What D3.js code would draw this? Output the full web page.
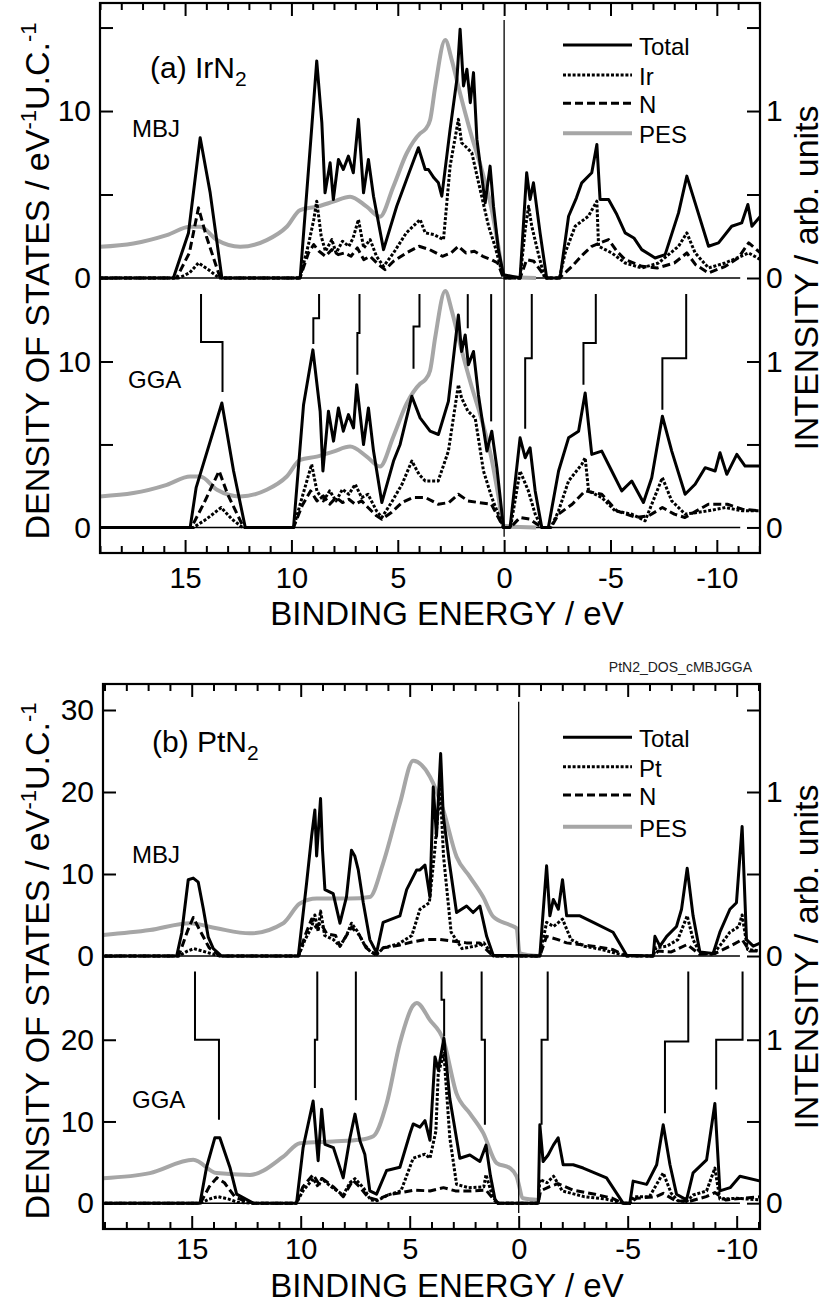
<!DOCTYPE html>
<html>
<head>
<meta charset="utf-8">
<script src="https://cdn.jsdelivr.net/npm/d3@7"></script>
<style>
  body { margin: 0; background: #fff; }
  svg { display: block; font-family: "Liberation Sans", Arial, sans-serif; }
</style>
</head>
<body>
<div id="wrapper"></div>
<script>
//* Data: [binding energy (eV), DOS (states/eV/u.c.)] ; PES in arb. units
const totalMbjA = [[19,0],[15.55,0],[14.84,2.7],[14.29,8.4],[13.82,5.1],[13.27,0],[9.59,0],[9.04,9.1],[8.81,13.0],[8.57,9.3],[8.42,5.1],[8.18,6.9],[8.03,4.7],[7.79,7.1],[7.56,6.5],[7.32,7.3],[7.09,6.3],[6.85,9.5],[6.61,5.1],[6.38,7.1],[6.14,4.9],[5.67,1.7],[5.05,4.3],[4.5,6.2],[4.03,7.8],[3.71,6.5],[3.56,6.5],[3.3,6.0],[3.09,5.7],[2.93,4.9],[2.54,8.9],[2.22,11.9],[2.07,14.9],[1.91,11.5],[1.75,12.5],[1.59,10.5],[1.44,12.3],[1.28,8.3],[0.89,4.5],[0.66,6.7],[0.5,4.3],[0.27,1.7],[0.03,0.2],[-0.75,0],[-1.06,6.3],[-1.22,4.7],[-1.38,5.7],[-1.69,2.7],[-2.0,0],[-2.63,0],[-3.03,3.7],[-3.4,4.8],[-3.65,5.7],[-4.12,6.3],[-4.36,8.0],[-4.51,4.7],[-4.91,4.7],[-5.3,3.8],[-5.69,2.7],[-6.1,2.4],[-6.47,1.7],[-7.1,1.2],[-7.57,1.4],[-8.2,3.9],[-8.59,6.1],[-8.98,4.5],[-9.61,1.9],[-10.08,2.1],[-10.7,3.1],[-11.17,3.3],[-11.46,4.4],[-11.65,3.1],[-12.05,3.7]];
const irMbjA = [[19,0],[15.3,0],[14.8,0.3],[14.37,0.9],[13.9,0.5],[13.4,0],[9.6,0],[9.2,2.0],[8.95,3.5],[8.81,4.6],[8.6,2.5],[8.4,1.6],[8.1,2.3],[7.9,1.5],[7.6,2.2],[7.3,1.9],[7.1,2.4],[6.85,3.5],[6.6,1.8],[6.3,2.3],[6.0,1.3],[5.67,0.7],[5.2,1.5],[4.6,2.7],[3.95,3.5],[3.71,2.7],[3.3,2.6],[2.85,2.3],[2.54,6.7],[2.15,9.5],[2.0,8.1],[1.75,7.8],[1.52,7.5],[1.2,5.7],[0.73,3.1],[0.43,1.9],[0.03,0],[-0.75,0],[-1.0,3.0],[-1.15,4.3],[-1.3,3.1],[-1.6,1.5],[-1.9,0],[-2.6,0],[-2.87,1.5],[-3.34,3.1],[-3.96,3.7],[-4.36,4.6],[-4.44,1.9],[-5.06,1.5],[-5.69,0.9],[-6.47,0.6],[-7.26,0.9],[-8.2,1.9],[-8.59,2.7],[-8.98,1.5],[-9.61,0.6],[-10.39,0.9],[-11.5,1.5],[-12.05,1.1]];
const nMbjA = [[19,0],[15.4,0],[14.8,1.5],[14.37,4.2],[14.0,2.5],[13.35,0],[9.6,0],[9.2,1.5],[8.95,2.0],[8.7,1.6],[8.4,1.3],[8.1,1.7],[7.8,1.4],[7.5,1.5],[7.2,1.3],[6.9,1.8],[6.6,1.1],[6.3,1.3],[5.9,0.8],[5.6,0.5],[5.2,1.0],[4.6,1.5],[4.0,1.9],[3.5,1.7],[2.9,1.3],[2.5,1.5],[2.15,1.9],[1.8,1.5],[1.4,1.6],[1.0,1.3],[0.6,1.1],[0.3,0.9],[0.03,0],[-0.75,0],[-1.06,1.1],[-1.4,1.0],[-1.8,0.3],[-2.0,0],[-2.6,0],[-3.19,0.7],[-3.7,1.4],[-4.12,1.9],[-4.91,2.3],[-5.3,1.6],[-5.69,1.1],[-6.47,0.7],[-7.2,0.6],[-8.0,0.9],[-8.59,1.5],[-9.0,0.8],[-9.61,0.3],[-10.4,0.7],[-11.0,1.2],[-11.5,2.1],[-12.05,1.5]];
const totalGgaA = [[19,0],[14.76,0],[14.48,2.4],[13.27,7.5],[12.72,3.4],[12.17,0],[9.9,0],[9.43,7.4],[8.99,10.7],[8.65,7.0],[8.52,3.4],[8.26,7.0],[8.02,5.2],[7.79,7.2],[7.56,5.8],[7.32,6.8],[7.08,6.0],[6.93,8.6],[6.61,5.0],[6.38,7.2],[6.14,4.6],[5.75,1.5],[5.2,4.0],[4.89,5.0],[4.34,7.9],[3.95,6.6],[3.71,6.2],[3.48,5.8],[3.09,5.6],[2.62,7.6],[2.15,12.8],[2.0,10.6],[1.83,11.6],[1.68,9.8],[1.44,10.6],[1.21,8.0],[0.81,4.6],[0.58,5.8],[0.34,3.6],[0.03,0],[-0.28,0],[-0.75,5.4],[-0.99,4.2],[-1.22,4.8],[-1.46,2.2],[-1.77,0],[-2.08,0],[-2.56,3.4],[-3.03,5.4],[-3.5,5.8],[-3.81,8.1],[-4.12,4.4],[-4.59,4.6],[-5.06,3.4],[-5.53,2.2],[-6.0,2.8],[-6.55,1.5],[-6.94,3.0],[-7.44,6.7],[-7.88,4.6],[-8.51,2.0],[-8.98,2.6],[-9.45,3.6],[-9.92,3.4],[-10.15,4.5],[-10.47,3.2],[-10.94,4.4],[-11.33,3.7],[-12.05,3.7]];
const irGgaA = [[19,0],[14.6,0],[14.0,0.5],[13.3,1.2],[12.8,0.5],[12.3,0],[9.9,0],[9.5,1.8],[9.05,3.8],[8.8,2.2],[8.5,1.6],[8.2,2.2],[7.9,1.6],[7.6,2.3],[7.3,2.0],[7.0,2.6],[6.7,1.8],[6.4,2.0],[6.0,1.0],[5.75,0.6],[5.3,1.5],[4.8,2.6],[4.34,4.0],[4.0,3.2],[3.71,2.8],[3.1,2.8],[2.62,4.6],[2.15,8.6],[2.0,7.8],[1.7,7.0],[1.36,6.6],[0.97,3.4],[0.58,1.8],[0.03,0],[-0.3,0],[-0.75,3.4],[-1.14,2.2],[-1.46,0.8],[-1.77,0],[-2.2,0],[-2.56,1.0],[-3.03,2.8],[-3.65,3.8],[-3.81,4.2],[-3.97,2.2],[-4.59,1.8],[-5.22,1.0],[-6.0,0.8],[-6.63,0.4],[-7.44,3.0],[-7.88,1.6],[-8.51,0.8],[-9.6,1.0],[-10.4,1.2],[-11.2,1.0],[-12.05,1.0]];
const nGgaA = [[19,0],[14.7,0],[14.1,1.5],[13.4,3.4],[13.0,2.0],[12.25,0],[9.9,0],[9.5,1.3],[9.1,2.2],[8.8,1.6],[8.5,1.9],[8.2,1.4],[7.9,1.8],[7.6,1.5],[7.3,1.7],[7.0,1.4],[6.7,1.6],[6.4,1.2],[6.0,0.7],[5.75,0.5],[5.3,0.9],[4.8,1.5],[4.3,1.8],[3.7,1.8],[3.1,1.4],[2.6,1.5],[2.15,2.0],[1.7,1.6],[1.2,1.5],[0.6,1.4],[0.03,0],[-0.3,0],[-0.75,0.6],[-1.2,0.5],[-1.77,0],[-2.2,0],[-2.56,0.8],[-3.2,1.4],[-3.81,2.2],[-4.59,2.0],[-5.3,1.0],[-6.2,0.6],[-6.8,0.7],[-7.44,1.2],[-8.0,0.8],[-8.5,0.6],[-9.6,1.4],[-10.5,1.4],[-11.2,1.1],[-12.05,1.0]];
const pesA = [[19,0.187],[17.43,0.207],[15.86,0.257],[14.76,0.307],[14.29,0.307],[13.5,0.227],[12.41,0.187],[11.16,0.227],[10.22,0.307],[9.59,0.407],[8.81,0.427],[8.03,0.457],[7.24,0.487],[6.46,0.427],[5.84,0.367],[5.21,0.547],[4.58,0.747],[3.95,0.866],[3.71,0.89],[3.48,0.946],[3.24,1.145],[2.77,1.425],[2.46,1.305],[2.15,1.145],[1.52,0.846],[1.05,0.647],[0.58,0.407],[0.27,0.188],[0.03,0.01],[-1.5,0]];
// [E top (MBJ), E bottom (GGA), DOS at step, DOS at end]
const markersA = [[14.25,13.24,11.17,8.16],[8.7,8.97,12.61,11.05],[6.8,6.9,11.71,9.2],[3.98,4.26,12.11,9.56],[1.71,1.71,12.0,12.0],[0.61,0.61,6.39,6.39],[-1.3,-0.99,10.2,5.95],[-4.31,-3.73,11.11,8.6],[-8.56,-7.44,10.2,7.09]];

const totalMbjB = [[19,0],[15.69,0],[15.46,2.8],[15.16,9.3],[14.93,9.5],[14.7,9.0],[14.47,5.8],[14.24,2.3],[14.01,0.9],[13.63,0],[10.11,0],[9.73,8.9],[9.5,14.6],[9.35,17.8],[9.27,12.2],[9.09,19.2],[9.0,12.9],[8.89,8.1],[8.51,7.6],[8.2,4.0],[7.9,7.2],[7.67,12.9],[7.52,12.2],[7.36,10.5],[7.13,6.5],[6.83,2.0],[6.52,0.4],[6.22,4.1],[5.45,4.9],[5.14,8.1],[4.68,10.5],[4.53,10.5],[4.3,11.1],[4.07,7.2],[3.92,20.6],[3.77,14.6],[3.58,24.7],[3.46,17.1],[3.16,11.0],[2.85,5.3],[2.39,6.1],[2.09,5.3],[1.78,6.1],[1.47,2.4],[1.17,0.1],[-0.97,0],[-1.28,11.0],[-1.43,4.9],[-1.59,6.9],[-1.82,5.7],[-2.01,9.3],[-2.2,4.9],[-2.81,4.9],[-3.42,4.1],[-4.33,2.9],[-4.95,0.1],[-6.17,0],[-6.25,2.4],[-6.48,1.2],[-6.79,2.4],[-7.24,3.6],[-7.47,5.7],[-7.73,10.7],[-8.0,4.9],[-8.31,0.5],[-8.92,0.3],[-9.23,2.9],[-9.69,5.7],[-9.99,6.5],[-10.25,15.8],[-10.45,2.0],[-10.76,1.2],[-11.1,1.6]];
const ptMbjB = [[19,0],[15.6,0],[15.2,0.6],[14.9,0.9],[14.5,0.6],[14.0,0.2],[13.7,0],[10.1,0],[9.8,2.0],[9.5,3.5],[9.35,5.0],[9.2,3.0],[9.09,5.5],[8.9,2.5],[8.5,2.0],[8.2,1.2],[7.9,2.5],[7.67,4.0],[7.4,3.0],[7.1,1.5],[6.8,0.5],[6.5,0.2],[6.2,1.0],[5.5,1.5],[4.9,2.5],[4.53,5.7],[4.1,6.5],[3.85,12.9],[3.6,20.6],[3.45,12.2],[3.1,2.9],[2.6,0.9],[2.0,1.2],[1.6,1.6],[1.17,0],[-0.97,0],[-1.28,4.1],[-1.6,3.6],[-2.01,4.5],[-2.4,2.0],[-3.0,1.2],[-3.8,0.8],[-4.95,0],[-6.17,0],[-6.3,1.0],[-6.8,1.2],[-7.3,2.0],[-7.73,4.9],[-8.0,2.0],[-8.31,0.4],[-8.92,0.2],[-9.3,1.5],[-9.69,2.9],[-10.1,3.6],[-10.25,5.0],[-10.5,0.8],[-11.1,0.6]];
const nMbjB = [[19,0],[15.6,0],[15.2,3.0],[14.93,4.7],[14.6,3.0],[14.2,1.0],[13.7,0],[10.1,0],[9.8,2.5],[9.5,4.5],[9.3,3.5],[9.09,4.0],[8.8,2.7],[8.4,2.5],[8.2,1.2],[7.9,2.5],[7.67,3.5],[7.3,2.5],[7.0,1.0],[6.6,0.2],[6.2,1.0],[5.5,1.3],[4.9,1.7],[4.3,2.0],[3.6,2.0],[3.0,1.8],[2.4,1.6],[1.8,1.6],[1.17,0],[-0.97,0],[-1.28,2.4],[-1.8,2.0],[-2.2,1.6],[-3.4,1.2],[-4.3,0.8],[-4.95,0],[-6.17,0],[-6.4,0.6],[-7.0,0.5],[-7.73,1.4],[-8.3,0.2],[-9.0,0.3],[-9.7,1.2],[-10.25,2.0],[-10.6,0.6],[-11.1,0.6]];
const totalGgaB = [[19,0],[14.62,0],[14.32,4.4],[13.94,8.0],[13.71,8.0],[13.25,4.4],[12.94,1.1],[12.18,0],[10.19,0],[9.89,6.8],[9.43,12.5],[9.2,5.2],[9.04,11.5],[8.89,7.2],[8.5,6.8],[8.05,3.1],[7.74,8.0],[7.51,10.9],[7.28,7.6],[7.06,6.0],[6.83,1.5],[6.52,1.1],[6.06,4.0],[5.45,4.4],[4.99,8.5],[4.84,9.7],[4.53,9.3],[4.3,10.1],[4.07,7.7],[3.84,17.9],[3.69,16.3],[3.43,20.2],[3.16,12.8],[2.7,5.5],[2.24,5.9],[1.78,5.1],[1.5,7.1],[1.3,3.4],[1.09,0.5],[0.95,0],[-0.9,0],[-0.97,9.6],[-1.12,5.1],[-1.35,5.9],[-1.59,7.1],[-1.81,8.0],[-2.04,4.7],[-2.5,4.7],[-2.96,4.3],[-4.03,3.1],[-4.79,0],[-5.1,0],[-5.25,2.7],[-5.87,2.3],[-6.33,4.7],[-6.63,9.6],[-6.94,4.7],[-7.24,1.1],[-7.7,0.4],[-8.0,3.7],[-8.62,5.3],[-9.0,12.2],[-9.23,1.5],[-9.7,1.9],[-10.15,3.3],[-11.1,2.7]];
const ptGgaB = [[19,0],[14.6,0],[14.2,0.5],[13.8,0.8],[13.3,0.5],[12.9,0.1],[12.2,0],[10.2,0],[9.9,1.5],[9.43,3.0],[9.2,2.0],[9.04,3.0],[8.6,2.0],[8.05,1.0],[7.74,2.5],[7.51,3.0],[7.1,1.8],[6.8,0.4],[6.5,0.3],[6.0,1.0],[5.4,1.5],[4.84,5.5],[4.3,6.0],[4.07,5.5],[3.8,8.8],[3.69,15.9],[3.43,18.3],[3.16,8.0],[2.85,2.3],[2.3,1.9],[1.6,2.0],[1.5,3.5],[1.2,0.8],[0.95,0],[-0.9,0],[-0.97,2.9],[-1.3,2.5],[-1.6,3.3],[-2.0,1.5],[-3.0,0.8],[-4.0,0.5],[-4.79,0],[-5.1,0],[-5.3,0.8],[-6.0,0.8],[-6.63,3.7],[-7.0,1.2],[-7.3,0.3],[-7.7,0.2],[-8.0,1.0],[-8.62,1.5],[-9.0,4.3],[-9.23,0.5],[-10.0,0.6],[-11.1,0.4]];
const nGgaB = [[19,0],[14.6,0],[14.2,2.0],[13.85,3.1],[13.5,2.5],[13.0,0.7],[12.2,0],[10.2,0],[9.9,2.0],[9.43,3.5],[9.2,2.5],[9.0,3.0],[8.5,2.0],[8.05,0.8],[7.6,2.8],[7.3,2.0],[6.9,0.7],[6.5,0.4],[6.0,1.0],[5.4,1.3],[4.8,1.6],[4.07,1.5],[3.45,1.9],[2.9,1.5],[2.2,1.5],[1.5,1.6],[1.1,0.3],[0.95,0],[-0.9,0],[-1.0,1.5],[-1.4,2.0],[-1.8,2.4],[-2.5,1.6],[-3.5,1.1],[-4.3,0.6],[-4.79,0],[-5.1,0],[-5.4,0.6],[-6.3,0.8],[-6.63,1.2],[-7.2,0.3],[-7.8,0.2],[-8.6,0.8],[-9.0,1.3],[-9.5,0.4],[-10.3,0.6],[-11.1,0.8]];
const pesMbjB = [[19.06,0.128],[16.92,0.158],[15.08,0.2],[13.86,0.169],[12.33,0.138],[10.8,0.2],[10.04,0.32],[9.27,0.35],[7.74,0.35],[6.83,0.36],[6.22,0.565],[5.45,0.93],[4.84,1.19],[4.07,1.093],[3.46,0.89],[2.85,0.605],[2.24,0.483],[1.63,0.36],[1.17,0.24],[0.4,0.189],[0.1,0.169],[-0.05,0.016],[-0.9,0]];
const pesGgaB = [[19.06,0.153],[16.92,0.184],[14.93,0.265],[13.86,0.184],[12.33,0.173],[10.8,0.285],[10.04,0.367],[8.52,0.378],[7.28,0.388],[6.67,0.41],[6.06,0.61],[5.45,0.98],[4.84,1.21],[4.68,1.225],[4.07,1.12],[3.46,1.0],[2.85,0.67],[2.24,0.55],[1.63,0.43],[1.01,0.245],[0.4,0.215],[0.1,0.165],[-0.2,0.03],[-0.9,0.02]];
const markersB = [[14.85,13.75,20.0,10.2],[9.24,9.35,20.0,14.1],[7.47,7.47,12.6,12.6],[3.54,3.42,24.9,20.4],[1.7,1.55,20.0,9.6],[-1.33,-1.05,20.0,9.6],[-7.78,-6.71,19.8,11.0],[-10.27,-9.06,20.0,13.9]];

const xTickLabels = [15, 10, 5, 0, -5, -10];

const figures = [
  {
    title: "(a) IrN", metal: "Ir",
    xDomain: [19.0, -12.03], left: 100, right: 760, top: 3, mid: 278, bottom: 553,
    mbjDomain: [0, 16.47], ggaDomain: [-1.54, 15.03], pesPerDos: 0.1,
    mbjTicks: [0, 5, 10, 15], ggaTicks: [0, 5, 10], rightMbj: [0, 0.5, 1, 1.5], rightGga: [0, 0.5, 1],
    mbj: { total: totalMbjA, metal: irMbjA, n: nMbjA, pes: pesA },
    gga: { total: totalGgaA, metal: irGgaA, n: nGgaA, pes: pesA },
    markers: markersA, markerTop: 14.06, zeroEnd: -11.1, vline: [15.45, -0.56],
    titlePos: [150, 77.5], mbjPos: [132, 137], ggaPos: [128, 388],
    legendRows: [45, 75, 103.3, 133.3], yLabelY: 281, rLabelY: 278, xLabelY: 625, xPad: 14,
  },
  {
    title: "(b) PtN", metal: "Pt",
    xDomain: [19.07, -11.07], left: 103, right: 760, top: 684, mid: 956, bottom: 1229,
    mbjDomain: [0, 33.17], ggaDomain: [-3.16, 30.25], pesPerDos: 0.05,
    mbjTicks: [0, 10, 20, 30], ggaTicks: [0, 10, 20], rightMbj: [0, 0.5, 1, 1.5], rightGga: [0, 0.5, 1],
    mbj: { total: totalMbjB, metal: ptMbjB, n: nMbjB, pes: pesMbjB },
    gga: { total: totalGgaB, metal: ptGgaB, n: nGgaB, pes: pesGgaB },
    markers: markersB, markerTop: 28.35, zeroEnd: -10.15, vline: [31, -1.19],
    titlePos: [152, 751.7], mbjPos: [132, 863], ggaPos: [132, 1108],
    legendRows: [737.3, 766.7, 795, 826.7], yLabelY: 961, rLabelY: 957, xLabelY: 1297, xPad: 9,
  },
];

const styles = {
  total: { stroke: "#000", width: 3, dash: null },
  metal: { stroke: "#000", width: 3, dash: "3,1.8" },
  n: { stroke: "#000", width: 3, dash: "8,4" },
  pes: { stroke: "#a6a6a6", width: 4, dash: null },
};

const FONT = "Liberation Sans, Arial, sans-serif";

function drawFigure(svg, fig, idx) {
  const x = d3.scaleLinear().domain(fig.xDomain).range([fig.left, fig.right]);

  const panels = [
    { key: "mbj", label: "MBJ", pos: fig.mbjPos, range: [fig.mid, fig.top], domain: fig.mbjDomain,
      ticks: fig.mbjTicks, rticks: fig.rightMbj, clip: [fig.top, fig.mid + 2] },
    { key: "gga", label: "GGA", pos: fig.ggaPos, range: [fig.bottom, fig.mid], domain: fig.ggaDomain,
      ticks: fig.ggaTicks, rticks: fig.rightGga, clip: [fig.mid, fig.bottom] },
  ];

  panels.forEach((p, i) => {
    p.y = d3.scaleLinear().domain(p.domain).range(p.range);
    p.yI = d3.scaleLinear().domain(p.domain.map((d) => d * fig.pesPerDos)).range(p.range);
    const clipId = `clip-${idx}-${i}`;
    svg.append("clipPath").attr("id", clipId).append("rect")
      .attr("x", fig.left).attr("y", p.clip[0])
      .attr("width", fig.right - fig.left).attr("height", p.clip[1] - p.clip[0]);

    const g = svg.append("g").attr("clip-path", `url(#${clipId})`);
    const data = fig[p.key];

    // zero line
    g.append("line")
      .attr("x1", x(fig.xDomain[0])).attr("x2", x(fig.zeroEnd))
      .attr("y1", p.y(0)).attr("y2", p.y(0))
      .attr("stroke", "#000").attr("stroke-width", 1.6);

    const pesLine = d3.line().curve(d3.curveMonotoneX).x((d) => x(d[0])).y((d) => p.yI(d[1]));
    g.append("path").datum(data.pes).attr("d", pesLine)
      .attr("fill", "none").attr("stroke", styles.pes.stroke)
      .attr("stroke-width", styles.pes.width).attr("stroke-linejoin", "round");

    const dosLine = d3.line().x((d) => x(d[0])).y((d) => p.y(d[1]));
    ["n", "metal", "total"].forEach((k) => {
      g.append("path").datum(data[k]).attr("d", dosLine)
        .attr("fill", "none").attr("stroke", styles[k].stroke)
        .attr("stroke-width", styles[k].width)
        .attr("stroke-dasharray", styles[k].dash)
        .attr("stroke-linejoin", "round");
    });

    // left axis
    svg.append("g")
      .attr("transform", `translate(${fig.left},0)`)
      .call(d3.axisLeft(p.y).tickValues(p.ticks).tickSize(-13).tickPadding(9)
        .tickFormat((d) => (fig.pesPerDos === 0.1 && d % 10 !== 0 ? "" : d)))
      .call((a) => a.select(".domain").remove())
      .call((a) => a.selectAll("line").attr("stroke-width", 2))
      .call((a) => a.selectAll("text").attr("font-size", 30).attr("fill", "#000").attr("font-family", FONT));

    // right axis
    svg.append("g")
      .attr("transform", `translate(${fig.right},0)`)
      .call(d3.axisRight(p.yI).tickValues(p.rticks).tickSize(-13).tickPadding(6)
        .tickFormat((d) => (Number.isInteger(d) ? d : "")))
      .call((a) => a.select(".domain").remove())
      .call((a) => a.selectAll("line").attr("stroke-width", 2))
      .call((a) => a.selectAll("text").attr("font-size", 30).attr("fill", "#000").attr("font-family", FONT));

    svg.append("text").attr("x", p.pos[0]).attr("y", p.pos[1])
      .attr("font-size", 24).text(p.label);
  });

  const mbj = panels[0];
  const gga = panels[1];

  // vertical line at E = 0
  svg.append("line")
    .attr("x1", x(0)).attr("x2", x(0))
    .attr("y1", mbj.y(fig.vline[0])).attr("y2", gga.y(fig.vline[1]))
    .attr("stroke", "#000").attr("stroke-width", 1.3);

  // MBJ -> GGA peak shift markers
  svg.append("g").selectAll("path").data(fig.markers).join("path")
    .attr("d", (m) => `M${x(m[0])},${gga.y(fig.markerTop)}V${gga.y(m[2])}H${x(m[1])}V${gga.y(m[3])}`)
    .attr("fill", "none").attr("stroke", "#000").attr("stroke-width", 2);

  // x axes (bottom & top)
  const minor = d3.range(Math.ceil(fig.xDomain[1]), 20).filter((d) => d % 5 !== 0);
  const styleAxis = (a) => {
    a.select(".domain").remove();
    a.selectAll("line").attr("stroke-width", 2);
    a.selectAll("text").attr("font-size", 29).attr("fill", "#000").attr("font-family", FONT);
  };
  svg.append("g").attr("transform", `translate(0,${fig.bottom})`)
    .call(d3.axisBottom(x).tickValues(xTickLabels).tickSize(-13).tickPadding(fig.xPad).tickFormat((d) => String(d)))
    .call(styleAxis);
  svg.append("g").attr("transform", `translate(0,${fig.bottom})`)
    .call(d3.axisBottom(x).tickValues(minor).tickSize(-7).tickFormat(""))
    .call(styleAxis);
  svg.append("g").attr("transform", `translate(0,${fig.top})`)
    .call(d3.axisTop(x).tickValues(xTickLabels).tickSize(-13).tickFormat(""))
    .call(styleAxis);
  svg.append("g").attr("transform", `translate(0,${fig.top})`)
    .call(d3.axisTop(x).tickValues(minor).tickSize(-7).tickFormat(""))
    .call(styleAxis);

  // frame
  svg.append("rect")
    .attr("x", fig.left).attr("y", fig.top)
    .attr("width", fig.right - fig.left).attr("height", fig.bottom - fig.top)
    .attr("fill", "none").attr("stroke", "#000").attr("stroke-width", 2.2);

  // title
  const t = svg.append("text").attr("x", fig.titlePos[0]).attr("y", fig.titlePos[1]).attr("font-size", 30);
  t.append("tspan").text(fig.title);
  t.append("tspan").attr("dy", 8).attr("font-size", 21).text("2");

  // legend
  const legendItems = [
    { label: "Total", s: styles.total },
    { label: fig.metal, s: styles.metal },
    { label: "N", s: styles.n },
    { label: "PES", s: styles.pes },
  ];
  legendItems.forEach((item, i) => {
    const yy = fig.legendRows[i];
    svg.append("line").attr("x1", 563).attr("x2", 632).attr("y1", yy).attr("y2", yy)
      .attr("stroke", item.s.stroke).attr("stroke-width", item.s.width)
      .attr("stroke-dasharray", item.s.dash);
    svg.append("text").attr("x", 639).attr("y", yy + 10).attr("font-size", 24).text(item.label);
  });

  // axis titles
  svg.append("text").attr("x", 447).attr("y", fig.xLabelY)
    .attr("text-anchor", "middle").attr("font-size", 33).text("BINDING ENERGY / eV");

  const yl = svg.append("text")
    .attr("transform", `translate(49,${fig.yLabelY}) rotate(-90)`)
    .attr("text-anchor", "middle").attr("font-size", 34);
  yl.append("tspan").text("DENSITY OF STATES / eV");
  yl.append("tspan").attr("dy", -13).attr("font-size", 22).text("-1");
  yl.append("tspan").attr("dy", 13).text("U.C.");
  yl.append("tspan").attr("dy", -13).attr("font-size", 22).text("-1");

  svg.append("text")
    .attr("transform", `translate(818,${fig.rLabelY}) rotate(-90)`)
    .attr("text-anchor", "middle").attr("font-size", 34).text("INTENSITY / arb. units");
}

function drawChart() {
  const svg = d3.select("#wrapper").append("svg")
    .attr("width", 825).attr("height", 1304);

  figures.forEach((fig, i) => drawFigure(svg, fig, i));

  svg.append("text").attr("x", 752).attr("y", 672)
    .attr("text-anchor", "end").attr("font-size", 14).attr("fill", "#222")
    .text("PtN2_DOS_cMBJGGA");
}

drawChart();
</script>
</body>
</html>
